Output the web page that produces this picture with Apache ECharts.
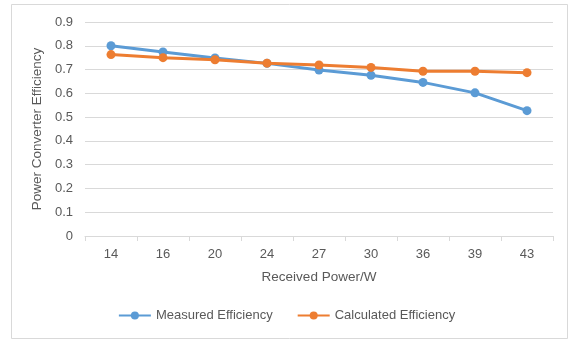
<!DOCTYPE html>
<html>
<head>
<meta charset="utf-8">
<script src="https://cdn.jsdelivr.net/npm/echarts@6/dist/echarts.min.js"></script>
<style>
  html, body { margin: 0; padding: 0; background: #fff; }
  #chart { width: 573px; height: 341px; }
</style>
</head>
<body>
<div id="chart"></div>
<script>
// Received power (W) on the category axis
const receivedPower = ['14', '16', '20', '24', '27', '30', '36', '39', '43'];
// Efficiency series
const measuredEfficiency = [0.800, 0.774, 0.749, 0.726, 0.698, 0.676, 0.646, 0.602, 0.527];
const calculatedEfficiency = [0.763, 0.750, 0.741, 0.727, 0.719, 0.709, 0.693, 0.693, 0.687];

const textColor = '#595959';
const fontFamily = 'Liberation Sans, Arial, sans-serif';

const chart = echarts.init(document.getElementById('chart'), null, { renderer: 'canvas' });

chart.setOption({
  animation: false,
  backgroundColor: '#fff',
  textStyle: { fontFamily: fontFamily, color: textColor },
  graphic: [{
    type: 'rect',
    shape: { x: 11.5, y: 4.5, width: 556, height: 334 },
    style: { fill: 'none', stroke: '#d9d9d9', lineWidth: 1 },
    silent: true
  }],
  grid: { left: 85, right: 20, top: 22, bottom: 105, containLabel: false },
  legend: {
    bottom: 14,
    left: 'center',
    itemGap: 24,
    itemWidth: 32,
    itemHeight: 10,
    textStyle: { color: textColor, fontSize: 13, fontFamily: fontFamily },
    data: ['Measured Efficiency', 'Calculated Efficiency']
  },
  xAxis: {
    type: 'category',
    data: receivedPower,
    boundaryGap: true,
    name: 'Received Power/W',
    nameLocation: 'middle',
    nameGap: 34,
    nameTextStyle: { color: textColor, fontSize: 13.5, fontFamily: fontFamily },
    axisLine: { lineStyle: { color: '#d9d9d9', width: 1 } },
    axisTick: { show: true, length: 5, alignWithLabel: false, lineStyle: { color: '#d9d9d9' } },
    axisLabel: { color: textColor, fontSize: 13, margin: 12, fontFamily: fontFamily }
  },
  yAxis: {
    type: 'value',
    min: 0,
    max: 0.9,
    interval: 0.1,
    name: 'Power Converter Efficiency',
    nameLocation: 'middle',
    nameRotate: 90,
    nameGap: 34,
    nameTextStyle: { color: textColor, fontSize: 13.5, fontFamily: fontFamily },
    axisLine: { show: false },
    axisTick: { show: false },
    axisLabel: {
      color: textColor, fontSize: 13, margin: 12, fontFamily: fontFamily,
      formatter: v => (v === 0 ? '0' : v.toFixed(1))
    },
    splitLine: { lineStyle: { color: '#d9d9d9', width: 1 } }
  },
  series: [
    {
      name: 'Measured Efficiency',
      type: 'line',
      data: measuredEfficiency,
      symbol: 'circle',
      symbolSize: 9,
      lineStyle: { color: '#5b9bd5', width: 3 },
      itemStyle: { color: '#5b9bd5' },
      z: 2
    },
    {
      name: 'Calculated Efficiency',
      type: 'line',
      data: calculatedEfficiency,
      symbol: 'circle',
      symbolSize: 9,
      lineStyle: { color: '#ed7d31', width: 3 },
      itemStyle: { color: '#ed7d31' },
      z: 3
    }
  ]
});
</script>
</body>
</html>
